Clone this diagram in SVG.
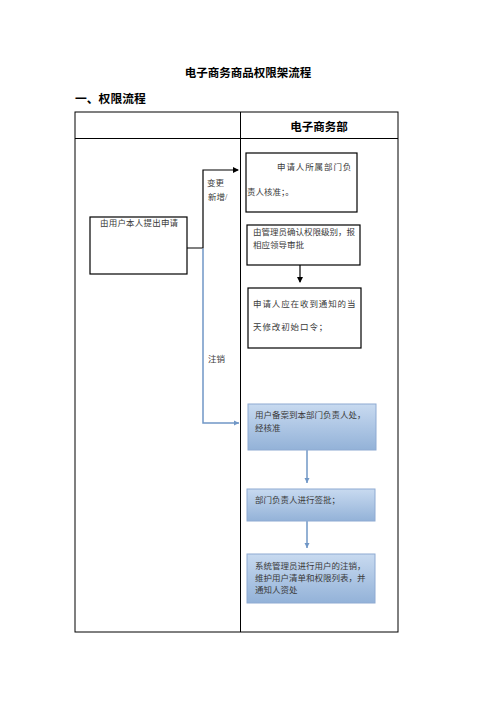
<svg xmlns="http://www.w3.org/2000/svg" width="496" height="702" viewBox="0 0 496 702">
<defs>
<style>
.t{font-family:"Liberation Serif","Noto Sans CJK SC",serif;font-size:8.5px;fill:#3a3a3a}
.b{font-family:"Liberation Sans","Noto Sans CJK SC",sans-serif;font-weight:bold;fill:#000}
.box{fill:#fff;stroke:#000;stroke-width:1.2}
.bbox{fill:url(#bg);stroke:#8eaad2;stroke-width:1}
.k{fill:none;stroke:#000;stroke-width:1.2}
.bl{fill:none;stroke:#7097c6;stroke-width:1.5}
</style>
<linearGradient id="bg" x1="0" y1="0" x2="0" y2="1">
<stop offset="0" stop-color="#c8daf0"/>
<stop offset="1" stop-color="#93b2d8"/>
</linearGradient>
<marker id="ak" markerWidth="6" markerHeight="6" refX="5" refY="3" orient="auto" markerUnits="userSpaceOnUse">
<path d="M0,0 L6,3 L0,6 Z" fill="#000"/>
</marker>
<marker id="ab" markerWidth="6" markerHeight="6" refX="5" refY="3" orient="auto" markerUnits="userSpaceOnUse">
<path d="M0,0.5 L5,3 L0,5.5 Z" fill="#7097c6"/>
</marker>
</defs>
<rect width="496" height="702" fill="#fff"/>
<text class="b" x="248" y="77" font-size="11.5" text-anchor="middle">电子商务商品权限架流程</text>
<text class="b" x="75" y="103" font-size="11.8">一、权限流程</text>
<g id="table">
<rect x="75" y="112" width="323" height="520" fill="none" stroke="#000" stroke-width="1"/>
<line x1="75" y1="138.5" x2="398" y2="138.5" stroke="#000" stroke-width="1"/>
<line x1="240.5" y1="112" x2="240.5" y2="632" stroke="#000" stroke-width="1"/>
<text class="b" x="319" y="131" font-size="11.5" text-anchor="middle">电子商务部</text>
</g>
<g id="connectors">
<polyline class="k" points="187,248 203,248 203,170 238,170" marker-end="url(#ak)"/>
<polyline class="bl" points="203,248.5 203,423 239,423" marker-end="url(#ab)"/>
<line class="k" x1="300" y1="265" x2="300" y2="282" marker-end="url(#ak)"/>
<line class="bl" x1="307" y1="450" x2="307" y2="483" marker-end="url(#ab)"/>
<line class="bl" x1="307" y1="521" x2="307" y2="548" marker-end="url(#ab)"/>
<text class="t" x="207" y="186">变更</text>
<text class="t" x="208" y="200">新增/</text>
<text class="t" x="208" y="362">注销</text>
</g>
<g id="n1">
<rect class="box" x="90" y="217" width="97" height="57"/>
<text class="t" x="100" y="226" letter-spacing="0.2">由用户本人提出申请</text>
</g>
<g id="n2">
<rect class="box" x="246" y="153" width="111" height="59"/>
<text class="t" x="277" y="170" letter-spacing="0.9">申请人所属部门负</text>
<text class="t" x="247" y="195">责人核准；。</text>
</g>
<g id="n3">
<rect class="box" x="247" y="225" width="113" height="40"/>
<text class="t" x="253" y="235">由管理员确认权限级别，报</text>
<text class="t" x="253" y="248">相应领导审批</text>
</g>
<g id="n4">
<rect class="box" x="248" y="288" width="113" height="60"/>
<text class="t" x="253" y="307" letter-spacing="0.9">申请人应在收到通知的当</text>
<text class="t" x="253" y="330" letter-spacing="0.9">天修改初始口令；</text>
</g>
<g id="n5">
<rect class="bbox" x="248" y="404" width="128" height="46"/>
<text class="t" x="255" y="418">用户备案到本部门负责人处，</text>
<text class="t" x="255" y="431">经核准</text>
</g>
<g id="n6">
<rect class="bbox" x="247" y="489" width="128" height="32"/>
<text class="t" x="255" y="503">部门负责人进行签批；</text>
</g>
<g id="n7">
<rect class="bbox" x="247" y="554" width="128" height="49"/>
<text class="t" x="255" y="569">系统管理员进行用户的注销，</text>
<text class="t" x="255" y="581">维护用户清单和权限列表，并</text>
<text class="t" x="255" y="593">通知人资处</text>
</g>
</svg>
